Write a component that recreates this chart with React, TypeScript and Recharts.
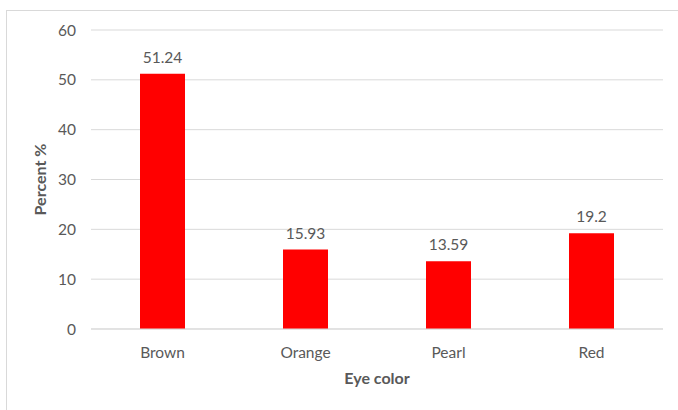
import React from "react";
import { BarChart, Bar, XAxis, YAxis, CartesianGrid, LabelList } from "recharts";

const categories = ["Brown", "Orange", "Pearl", "Red"];
const percents = [51.24, 15.93, 13.59, 19.2];
const yTicks = [0, 10, 20, 30, 40, 50, 60];

const data = categories.map((name, i) => ({ name, value: percents[i] }));

const FONT = "Lato, 'Open Sans', sans-serif";
const TEXT = "#595959";

export default function App() {
  return (
    <div
      style={{
        position: "absolute",
        left: 0,
        top: 0,
        width: 678,
        height: 410,
        overflow: "hidden",
        background: "#fff",
        fontFamily: FONT,
      }}
    >
      <div
        style={{
          position: "absolute",
          left: 6,
          top: 10,
          width: 720,
          height: 440,
          border: "1px solid #d9d9d9",
          boxSizing: "border-box",
        }}
      />
      <div style={{ position: "absolute", left: 0, top: 0 }}>
        <BarChart
          width={678}
          height={410}
          data={data}
          margin={{ top: 30, right: 15, bottom: 0, left: 0 }}
        >
          <CartesianGrid vertical={false} stroke="#d9d9d9" strokeWidth={1} />
          <XAxis
            dataKey="name"
            axisLine={{ stroke: "#d9d9d9" }}
            tickLine={false}
            tick={{ fill: TEXT, fontSize: 15.5, fontFamily: FONT }}
            tickMargin={12}
            height={81}
            label={{
              value: "Eye color",
              position: "insideBottom",
              offset: 26,
              fill: TEXT,
              fontSize: 16,
              fontWeight: 700,
              fontFamily: FONT,
            }}
          />
          <YAxis
            width={91}
            domain={[0, 60]}
            ticks={yTicks}
            axisLine={false}
            tickLine={false}
            tickMargin={9}
            tick={{ fill: TEXT, fontSize: 15.5, fontFamily: FONT }}
            label={{
              value: "Percent %",
              angle: -90,
              position: "insideLeft",
              offset: 40,
              fill: TEXT,
              fontSize: 16,
              fontWeight: 700,
              fontFamily: FONT,
              style: { textAnchor: "middle" },
            }}
          />
          <Bar dataKey="value" fill="#ff0000" barSize={45} isAnimationActive={false}>
            <LabelList
              dataKey="value"
              position="top"
              offset={11}
              fill={TEXT}
              fontSize={15.5}
              fontFamily={FONT}
            />
          </Bar>
        </BarChart>
      </div>
    </div>
  );
}
